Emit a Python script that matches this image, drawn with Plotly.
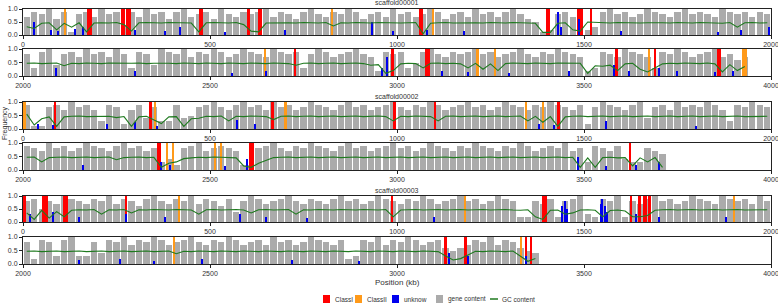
import plotly.graph_objects as go

# ---------------- data (kb, 20 kb windows) ----------------
BIN = 20
scaffolds = ["scaffold00001", "scaffold00002", "scaffold00003"]
x_ticks_top = [0, 500, 1000, 1500, 2000]
x_ticks_bottom = [2000, 2500, 3000, 3500, 4000]
y_ticks = [0, 0.5, 1.0]
y_tick_labels = ["0.0", "0.5", "1.0"]

p1_gene = [0.7,0.9,0.8,1.0,0.6,0.9,0.1,0.8,0.9,0.7,
           1.0,0.8,0.9,0.4,0.9,0.7,1.0,0.8,0.9,0.6,
           0.9,1.0,0.7,0.8,0.9,0.6,1.0,0.8,0.7,0.9,
           0.8,0.9,1.0,0.7,0.9,0.8,0.6,0.9,1.0,0.8,
           0.7,0.9,0.8,1.0,0.9,0.6,0.8,0.9,0.7,1.0,
           0.8,0.9,0.7,0.8,1.0,0.9,0.6,0.8,0.9,0.7,
           1.0,0.8,0.9,0.7,0.9,1.0,0.8,0.6,0.5,0.1,
           0.2,0.8,0.9,0.7,0.8,0.2,0.3,0.9,1.0,0.8,
           0.9,0.7,0.8,1.0,0.9,0.8,0.7,0.9,1.0,0.8,
           0.9,0.8,0.7,1.0,0.9,0.8,0.9,0.7,0.9,0.8]
p1_gc = [0.32,0.25,0.45,0.47,0.2,0.45,0.3,0.47,0.12,0.46,
         0.47,0.46,0.48,0.4,0.15,0.47,0.48,0.47,0.46,0.48,
         0.47,0.48,0.46,0.12,0.47,0.48,0.47,0.46,0.48,0.4,
         0.15,0.12,0.46,0.47,0.48,0.47,0.46,0.48,0.47,0.46,
         0.48,0.35,0.47,0.46,0.48,0.47,0.46,0.48,0.47,0.48,
         0.46,0.47,0.48,0.05,0.45,0.47,0.48,0.46,0.47,0.48,
         0.47,0.46,0.48,0.47,0.46,0.48,0.47,0.46,0.45,0.1,
         0.1,0.45,0.47,0.2,0.15,0.5,0.48,0.47,0.46,0.48,
         0.47,0.48,0.46,0.47,0.48,0.47,0.46,0.48,0.47,0.46,
         0.48,0.47,0.46,0.45,0.48,0.3,0.47,0.48,0.46,0.47]

p2_gene = [0.8,0.3,0.9,1.0,0.4,0.8,0.9,0.7,1.0,0.8,
           0.9,0.7,1.0,0.8,0.3,0.9,0.8,0.4,1.0,0.9,
           0.8,1.0,0.7,0.9,0.8,1.0,0.9,0.7,0.8,1.0,
           0.9,0.8,0.7,1.0,0.9,0.8,0.9,0.3,0.8,1.0,
           0.9,0.7,0.8,0.9,1.0,0.8,0.7,0.2,0.9,0.8,
           0.9,0.3,0.5,0.9,1.0,0.8,0.7,0.9,0.8,0.9,
           1.0,0.8,0.9,0.7,0.8,0.9,1.0,0.8,0.7,0.9,
           0.8,1.0,0.9,0.8,0.7,0.2,0.3,0.9,0.8,0.7,
           1.0,0.9,0.8,0.7,0.3,0.9,0.8,1.0,0.9,0.7,
           0.8,0.9,1.0,0.7,0.8,0.6,0.7]
p2_gc = [0.47,0.48,0.46,0.47,0.48,0.38,0.47,0.46,0.48,0.47,
         0.46,0.48,0.47,0.46,0.47,0.48,0.46,0.47,0.48,0.47,
         0.46,0.48,0.47,0.46,0.48,0.47,0.46,0.48,0.47,0.46,
         0.48,0.47,0.46,0.48,0.47,0.46,0.4,0.47,0.48,0.46,
         0.47,0.48,0.46,0.47,0.48,0.46,0.4,0.42,0.1,0.2,
         0.45,0.47,0.46,0.3,0.47,0.48,0.46,0.47,0.45,0.3,
         0.47,0.25,0.45,0.2,0.46,0.48,0.47,0.46,0.48,0.47,
         0.46,0.48,0.47,0.46,0.47,0.1,0.38,0.36,0.4,0.2,
         0.45,0.47,0.25,0.15,0.3,0.45,0.47,0.46,0.48,0.47,
         0.46,0.48,0.45,0.15,0.42,0.2,0.35]

p3_gene = [0.9,0.1,0.1,0.8,0.9,0.7,1.0,0.8,0.9,0.7,
           0.3,0.9,0.8,0.2,0.7,0.9,0.4,0.8,0.3,0.3,
           0.9,0.4,0.5,0.8,0.9,1.0,0.8,0.7,0.9,1.0,
           0.8,0.9,0.7,1.0,0.8,0.9,0.7,0.8,1.0,0.9,
           0.8,0.7,0.9,1.0,0.8,0.9,0.7,0.8,0.9,1.0,
           0.8,0.7,0.9,0.8,1.0,0.9,0.7,0.8,0.9,1.0,
           0.8,0.9,0.7,0.8,1.0,0.9,0.8,0.7,0.9,0.8,
           1.0,0.9,0.8,0.7,0.9,0.2,0.8,1.0,0.9,0.8,
           0.7,0.9,1.0,0.4,0.8,0.9,0.7,1.0,0.8,0.9,
           0.8,1.0,0.9,0.7,0.3,0.9,0.8,1.0,0.9,0.8]
p3_gc = [0.55,0.15,0.38,0.45,0.1,0.45,0.47,0.48,0.46,0.47,
         0.46,0.47,0.42,0.46,0.1,0.45,0.47,0.35,0.2,0.45,
         0.46,0.1,0.38,0.4,0.47,0.46,0.48,0.3,0.47,0.46,
         0.48,0.47,0.46,0.35,0.47,0.48,0.46,0.47,0.48,0.46,
         0.47,0.48,0.46,0.47,0.48,0.46,0.47,0.48,0.46,0.3,
         0.47,0.46,0.48,0.47,0.46,0.3,0.47,0.48,0.46,0.47,
         0.48,0.46,0.47,0.48,0.46,0.47,0.48,0.3,0.47,0.25,
         0.46,0.1,0.45,0.47,0.48,0.46,0.47,0.48,0.46,0.47,
         0.48,0.46,0.47,0.48,0.46,0.47,0.48,0.46,0.47,0.48,
         0.46,0.47,0.48,0.46,0.47,0.48,0.46,0.47,0.48,0.47]

p4_gene = [0.9,0.8,0.7,1.0,0.8,0.9,0.7,0.8,1.0,0.9,
           0.8,0.7,0.9,1.0,0.8,0.9,0.7,0.8,0.3,0.4,
           0.2,0.8,0.9,1.0,0.7,0.8,0.9,0.8,0.7,0.2,
           0.2,0.8,0.9,1.0,0.8,0.7,0.9,0.8,1.0,0.9,
           0.8,0.7,0.9,1.0,0.8,0.9,0.7,0.8,0.9,1.0,
           0.8,0.9,0.7,0.8,1.0,0.9,0.8,0.7,0.9,0.8,
           1.0,0.9,0.8,0.7,0.9,0.8,1.0,0.9,0.7,0.8,
           0.9,0.8,1.0,0.7,0.8,0.3,0.9,0.8,0.7,0.9,
           0.4,0.3,0.3,0.8,0.7,0.6]
p4_gc = [0.47,0.48,0.3,0.46,0.47,0.48,0.46,0.47,0.48,0.46,
         0.47,0.48,0.38,0.46,0.47,0.48,0.46,0.47,0.1,0.25,
         0.3,0.42,0.45,0.47,0.46,0.48,0.47,0.46,0.45,0.15,
         0.1,0.25,0.35,0.46,0.47,0.48,0.46,0.47,0.48,0.46,
         0.47,0.48,0.46,0.47,0.48,0.46,0.47,0.48,0.46,0.47,
         0.48,0.46,0.47,0.48,0.46,0.47,0.48,0.46,0.47,0.48,
         0.46,0.47,0.48,0.46,0.47,0.48,0.46,0.47,0.48,0.46,
         0.47,0.48,0.46,0.47,0.1,0.45,0.1,0.46,0.47,0.45,
         0.46,0.15,0.45,0.3,0.46,0.1]

p5_gene = [0.8,0.9,0.5,0.8,0.7,1.0,0.9,0.8,0.7,0.9,
           0.8,1.0,0.7,0.9,0.8,0.6,0.9,1.0,0.8,0.7,
           0.9,0.8,1.0,0.7,0.9,0.8,0.6,0.9,0.4,0.8,
           1.0,0.9,0.7,0.8,0.9,1.0,0.8,0.7,0.9,0.8,
           0.7,0.9,1.0,0.8,0.9,0.7,0.8,1.0,0.9,0.8,
           0.7,0.9,0.8,1.0,0.9,0.7,0.8,0.9,1.0,0.8,
           0.9,0.7,0.8,1.0,0.9,0.8,0.2,0.2,0.8,0.7,
           0.9,0.2,0.8,0.9,1.0,0.3,0.2,0.9,0.8,1.0,
           0.2,0.8,0.7,0.9,1.0,0.8,0.9,0.7,0.8,1.0,
           0.9,0.8,0.7,1.0,0.9,0.8,0.9,0.7,1.0,0.8]
p5_gc = [0.35,0.1,0.45,0.15,0.4,0.2,0.45,0.47,0.46,0.48,
         0.3,0.47,0.46,0.48,0.35,0.47,0.46,0.48,0.47,0.46,
         0.48,0.47,0.46,0.3,0.47,0.48,0.46,0.47,0.48,0.46,
         0.35,0.47,0.48,0.46,0.47,0.48,0.3,0.47,0.46,0.48,
         0.47,0.46,0.48,0.47,0.46,0.48,0.47,0.46,0.48,0.2,
         0.46,0.47,0.48,0.46,0.47,0.48,0.46,0.47,0.48,0.46,
         0.47,0.48,0.46,0.47,0.48,0.46,0.45,0.47,0.2,0.1,
         0.45,0.46,0.3,0.35,0.46,0.47,0.45,0.2,0.44,0.46,
         0.42,0.2,0.2,0.25,0.45,0.47,0.48,0.46,0.47,0.48,
         0.46,0.47,0.48,0.46,0.47,0.48,0.46,0.47,0.48,0.47]

p6_gene = [0.8,0.2,0.9,0.8,0.3,0.9,1.0,0.3,0.3,0.8,
           0.4,0.9,0.8,1.0,0.7,0.9,0.8,1.0,0.9,0.7,
           0.8,0.9,1.0,0.8,0.7,0.9,0.8,1.0,0.9,0.7,
           0.8,0.9,0.7,1.0,0.8,0.9,0.7,0.8,1.0,0.9,
           0.8,0.7,0.9,0.2,0.3,0.9,0.8,1.0,0.7,0.9,
           0.8,1.0,0.9,0.7,0.8,0.9,0.6,0.5,0.6,0.7,
           0.9,0.8,1.0,0.7,0.9,0.8,0.6,0.5,0.4]
p6_gc = [0.47,0.48,0.46,0.47,0.48,0.46,0.47,0.48,0.46,0.47,
         0.48,0.46,0.47,0.48,0.46,0.47,0.48,0.46,0.47,0.48,
         0.38,0.47,0.46,0.48,0.47,0.46,0.48,0.47,0.46,0.48,
         0.47,0.46,0.48,0.47,0.46,0.48,0.47,0.46,0.48,0.47,
         0.46,0.48,0.47,0.46,0.48,0.47,0.46,0.48,0.47,0.46,
         0.48,0.47,0.46,0.48,0.47,0.46,0.3,0.15,0.2,0.35,
         0.47,0.46,0.48,0.47,0.46,0.48,0.3,0.1,0.2]

# element intervals (kb) per scaffold
s1_class1 = [(170,185),(262,272),(276,288),(470,480),(600,608),(628,640),(1060,1070),
             (1398,1408),(1482,1498),(1517,1520),(2724,2730),(2983,2993),(3075,3087),
             (3582,3592),(3688,3691),(3856,3866)]
s1_class2 = [(110,116),(824,830),(1094,1099),(2645,2650),(3212,3218),(3260,3266),
             (3671,3677),(3922,3935)]
s1_unknown = [(30,0.5),(75,0.2),(95,0.15),(140,0.25),(160,0.3),(300,0.2),(380,0.15),
              (420,0.3),(540,0.1),(700,0.2),(935,0.5),(990,0.15),(1080,0.2),(1180,0.15),
              (1430,0.9),(1440,0.3),(1488,0.6),(1600,0.15),(1860,0.1),(1920,0.2),(1995,0.3),
              (2090,0.3),(2300,0.2),(2560,0.1),(2650,0.2),(2960,0.3),(2975,0.7),(3120,0.2),
              (3190,0.15),(3300,0.1),(3460,0.2),(3580,0.4),(3620,0.2),(3700,0.3),(3750,0.2),
              (3850,0.15),(3900,0.2)]

s2_class1 = [(82,88),(337,346),(664,670),(990,996),(1098,1104),(1428,1436),
             (2358,2368),(2603,2618),(3622,3625)]
s2_class2 = [(0,8),(352,356),(700,705),(1343,1348),(1388,1393),
             (2383,2388),(2399,2403),(2511,2516),(2527,2531)]
s2_unknown = [(40,0.2),(80,0.15),(225,0.2),(300,0.25),(360,0.1),(572,0.35),(620,0.2),
              (1380,0.2),(1420,0.15),(1560,0.3),(1800,0.1),(2160,0.2),(2370,0.3),
              (2395,0.2),(2540,0.15),(2600,0.4),(3484,0.5),(3560,0.15),(3640,0.2),(3700,0.3)]

s3_class1 = [(0,7),(52,66),(106,120),(272,278),(984,990),(1389,1402),(1622,1628),
             (1645,1652),(1657,1668),(1671,1680),(3125,3135),(3180,3186),(3342,3348),
             (3355,3361)]
s3_class2 = [(415,420),(1180,1185),(1900,1905),(2402,2406),(3330,3335)]
s3_unknown = [(20,0.3),(80,0.4),(150,0.2),(275,0.3),(380,0.2),(580,0.3),(650,0.2),
              (760,0.15),(1100,0.2),(1443,0.6),(1449,0.8),(1455,0.5),(1545,0.7),
              (1550,0.9),(1556,0.6),(1562,0.4),(1640,0.3),(1700,0.2),(1880,0.2),
              (2150,0.15),(2260,0.2),(2350,0.1),(2480,0.2),(2720,0.15),(2900,0.1),
              (3140,0.4),(3190,0.3),(3345,0.3)]

# ---------------- figure ----------------
W, H = 778, 306
FONT = "Liberation Sans"
C_RED, C_ORANGE, C_BLUE = "#ff0000", "#ff9a1a", "#0000ee"
C_GRAY, C_GREEN = "#ababab", "#1f7a1f"
TXT = "#333"

# panel pixel boxes (top, bottom)
panel_px = [(9, 35), (49, 76), (102, 129), (143, 170), (196, 222), (237, 264)]
title_px = [3, 96, 190]
x_left, x_right = 23, 771

panels = [
    (0, 0, p1_gene, p1_gc, s1_class1, s1_class2, s1_unknown),
    (0, 2000, p2_gene, p2_gc, s1_class1, s1_class2, s1_unknown),
    (1, 0, p3_gene, p3_gc, s2_class1, s2_class2, s2_unknown),
    (1, 2000, p4_gene, p4_gc, s2_class1, s2_class2, s2_unknown),
    (2, 0, p5_gene, p5_gc, s3_class1, s3_class2, s3_unknown),
    (2, 2000, p6_gene, p6_gc, s3_class1, s3_class2, s3_unknown),
]

fig = go.Figure()
layout = dict()
annotations = []
shapes = []


def ann(text, px, py, size=7, xanchor="center", angle=0):
    annotations.append(dict(text=text, x=px / W, y=1 - py / H, xref="paper", yref="paper",
                            xanchor=xanchor, yanchor="middle", showarrow=False,
                            textangle=angle, font=dict(size=size, family=FONT, color=TXT)))


for i, (sc, start, gene, gc, c1, c2, unk) in enumerate(panels):
    n = i + 1
    xa = "x" if n == 1 else f"x{n}"
    ya = "y" if n == 1 else f"y{n}"
    end = start + 2000
    centers = [start + BIN * k + BIN / 2 for k in range(len(gene))]

    fig.add_trace(go.Bar(x=centers, y=gene, width=[BIN * 0.85] * len(gene),
                         marker=dict(color=C_GRAY, line=dict(width=0)),
                         xaxis=xa, yaxis=ya, showlegend=False, hoverinfo="skip"))
    for items, col in ((c1, C_RED), (c2, C_ORANGE)):
        sel = [(a, b) for a, b in items if start <= a < end]
        if sel:
            fig.add_trace(go.Bar(x=[(a + b) / 2 for a, b in sel], y=[1.0] * len(sel),
                                 width=[b - a for a, b in sel],
                                 marker=dict(color=col, line=dict(width=0)),
                                 xaxis=xa, yaxis=ya, showlegend=False, hoverinfo="skip"))
    selu = [(p, h) for p, h in unk if start <= p < end]
    if selu:
        fig.add_trace(go.Bar(x=[p for p, h in selu], y=[h for p, h in selu],
                             width=[4] * len(selu),
                             marker=dict(color=C_BLUE, line=dict(width=0)),
                             xaxis=xa, yaxis=ya, showlegend=False, hoverinfo="skip"))
    fig.add_trace(go.Scatter(x=centers, y=gc, mode="lines",
                             line=dict(color=C_GREEN, width=1.1),
                             xaxis=xa, yaxis=ya, showlegend=False, hoverinfo="skip"))

    top, bot = panel_px[i]
    ticks = x_ticks_top if start == 0 else x_ticks_bottom
    layout["xaxis" if n == 1 else f"xaxis{n}"] = dict(
        domain=[x_left / W, x_right / W], range=[start, end], anchor=ya,
        tickvals=ticks, ticktext=[str(t) for t in ticks], ticklabeloverflow="allow",
        showline=True, mirror=True, linecolor="#222", linewidth=1,
        ticks="outside", ticklen=3, tickcolor="#222", showgrid=False, zeroline=False,
        tickfont=dict(size=7, family=FONT, color=TXT), automargin=False)
    layout["yaxis" if n == 1 else f"yaxis{n}"] = dict(
        domain=[1 - bot / H, 1 - top / H], range=[0, 1], anchor=xa,
        tickvals=y_ticks, ticktext=y_tick_labels, ticklabeloverflow="allow",
        showline=True, mirror=True, linecolor="#222", linewidth=1,
        ticks="outside", ticklen=3, tickcolor="#222", showgrid=False, zeroline=False,
        tickfont=dict(size=7, family=FONT, color=TXT), automargin=False)
    if start == 0:
        ann(scaffolds[sc], (x_left + x_right) / 2, title_px[sc])

ann("Position (kb)", 397, 282, size=8)
ann("Frequency", 5, 123, size=7, angle=-90)

# legend drawn as keys + labels
legend_items = [("ClassI", C_RED, "box"), ("ClassII", C_ORANGE, "box"),
                ("unknow", C_BLUE, "box"), ("gene content", C_GRAY, "box"),
                ("GC content", C_GREEN, "line")]
legend_x = [323, 355, 392, 436, 490]
ly = 299
for (lab, col, kind), lx in zip(legend_items, legend_x):
    if kind == "box":
        shapes.append(dict(type="rect", xref="paper", yref="paper",
                           x0=lx / W, x1=(lx + 7) / W, y0=1 - (ly + 4) / H, y1=1 - (ly - 4) / H,
                           fillcolor=col, line=dict(width=0)))
    else:
        shapes.append(dict(type="line", xref="paper", yref="paper",
                           x0=lx / W, x1=(lx + 8) / W, y0=1 - ly / H, y1=1 - ly / H,
                           line=dict(color=col, width=1.5)))
    ann(lab, lx + 10, ly, size=6.5, xanchor="left")

fig.update_layout(width=W, height=H, margin=dict(l=0, r=0, t=0, b=0),
                  paper_bgcolor="white", plot_bgcolor="white", barmode="overlay",
                  bargap=0, showlegend=False, annotations=annotations, shapes=shapes,
                  **layout)

fig.write_html("out.html", config={"displayModeBar": False},
               post_script="document.body.style.margin='0';document.body.style.overflow='hidden';")
